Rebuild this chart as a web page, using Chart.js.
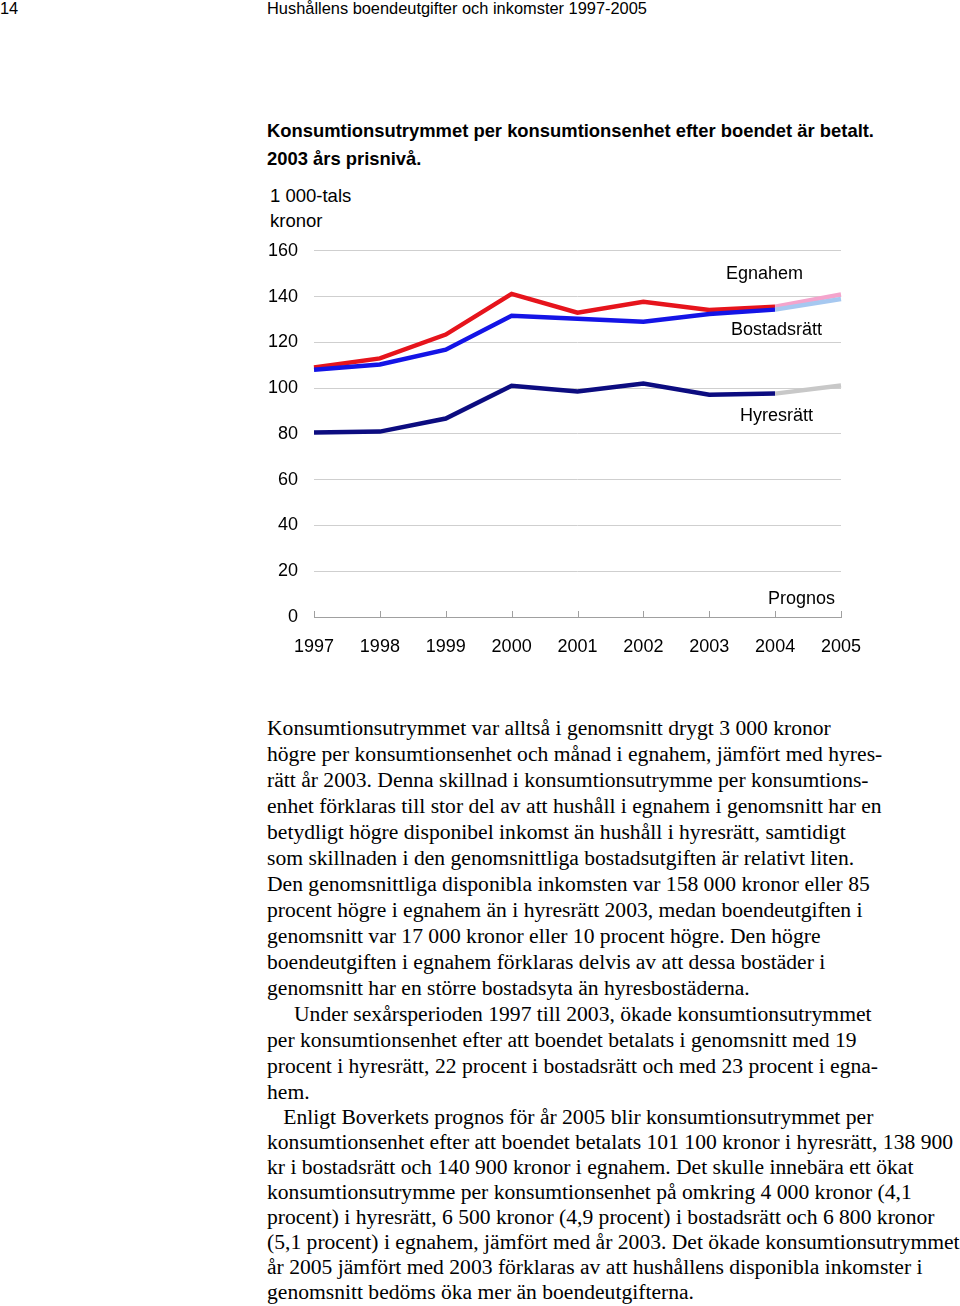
<!DOCTYPE html>
<html>
<head>
<meta charset="utf-8">
<script src="https://cdn.jsdelivr.net/npm/chart.js@4"></script>
<style>
  body { margin: 0; background: #fff; width: 960px; height: 1306px; position: relative; overflow: hidden; }
  .sans { font-family: "Liberation Sans", Arial, sans-serif; color: #000; }
  #pageno { position: absolute; left: 0; top: -1px; font-size: 16.4px; }
  #runhead { position: absolute; left: 267px; top: -1px; font-size: 16.4px; }
  #title { position: absolute; left: 267px; top: 117px; font-size: 18.4px; font-weight: bold; line-height: 28px; }
  #unit { position: absolute; left: 270px; top: 183px; font-size: 18.5px; line-height: 25px; }
  #wrap { position: absolute; left: 240px; top: 224px; width: 641px; height: 443px; }
  .body { position: absolute; left: 267px; font-family: "Liberation Serif", "Times New Roman", serif; font-size: 21.6px; color: #000; white-space: nowrap; }
  .body div { height: 26px; line-height: 26px; }
  #p1 { top: 715px; }
  #p2 { top: 1105px; }
  #p2 div { height: 25px; line-height: 25px; }
</style>
</head>
<body>
<div id="pageno" class="sans">14</div>
<div id="runhead" class="sans">Hushållens boendeutgifter och inkomster 1997-2005</div>
<div id="title" class="sans">Konsumtionsutrymmet per konsumtionsenhet efter boendet är betalt.<br>2003 års prisnivå.</div>
<div id="unit" class="sans">1 000-tals<br>kronor</div>
<div id="wrap"><canvas id="chart"></canvas></div>

<div id="p1" class="body">
<div>Konsumtionsutrymmet var alltså i genomsnitt drygt 3 000 kronor</div>
<div>högre per konsumtionsenhet och månad i egnahem, jämfört med hyres-</div>
<div>rätt år 2003. Denna skillnad i konsumtionsutrymme per konsumtions-</div>
<div>enhet förklaras till stor del av att hushåll i egnahem i genomsnitt har en</div>
<div>betydligt högre disponibel inkomst än hushåll i hyresrätt, samtidigt</div>
<div>som skillnaden i den genomsnittliga bostadsutgiften är relativt liten.</div>
<div>Den genomsnittliga disponibla inkomsten var 158 000 kronor eller 85</div>
<div>procent högre i egnahem än i hyresrätt 2003, medan boendeutgiften i</div>
<div>genomsnitt var 17 000 kronor eller 10 procent högre. Den högre</div>
<div>boendeutgiften i egnahem förklaras delvis av att dessa bostäder i</div>
<div>genomsnitt har en större bostadsyta än hyresbostäderna.</div>
<div>&nbsp;&nbsp;&nbsp;&nbsp;&nbsp;Under sexårsperioden 1997 till 2003, ökade konsumtionsutrymmet</div>
<div>per konsumtionsenhet efter att boendet betalats i genomsnitt med 19</div>
<div>procent i hyresrätt, 22 procent i bostadsrätt och med 23 procent i egna-</div>
<div>hem.</div>
</div>
<div id="p2" class="body">
<div>&nbsp;&nbsp;&nbsp;Enligt Boverkets prognos för år 2005 blir konsumtionsutrymmet per</div>
<div>konsumtionsenhet efter att boendet betalats 101 100 kronor i hyresrätt, 138 900</div>
<div>kr i bostadsrätt och 140 900 kronor i egnahem. Det skulle innebära ett ökat</div>
<div>konsumtionsutrymme per konsumtionsenhet på omkring 4 000 kronor (4,1</div>
<div>procent) i hyresrätt, 6 500 kronor (4,9 procent) i bostadsrätt och 6 800 kronor</div>
<div>(5,1 procent) i egnahem, jämfört med år 2003. Det ökade konsumtionsutrymmet</div>
<div>år 2005 jämfört med 2003 förklaras av att hushållens disponibla inkomster i</div>
<div>genomsnitt bedöms öka mer än boendeutgifterna.</div>
</div>

<script>
// years on the x axis, 2005 is a forecast
const years = ['1997', '1998', '1999', '2000', '2001', '2002', '2003', '2004', '2005'];

// 1 000-tals kronor per konsumtionsenhet, 2003 års prisnivå
const egnahem     = [109.0, 113.0, 123.4, 141.2, 133.0, 137.7, 134.1, 135.6, 140.9];
const bostadsratt = [108.0, 110.3, 116.8, 131.6, 130.3, 129.0, 132.4, 134.3, 138.9];
const hyresratt   = [80.6, 81.0, 86.7, 101.0, 98.5, 102.0, 97.1, 97.6, 101.1];

const yTicks = [0, 20, 40, 60, 80, 100, 120, 140, 160];

const forecastFrom = 7; // segment 2004 -> 2005 is the forecast

function makeSet(label, values, color, lightColor) {
    return {
        label: label,
        data: values,
        borderColor: color,
        borderWidth: 4.5,
        pointRadius: 0,
        tension: 0,
        segment: {
            borderColor: ctx => ctx.p0DataIndex >= forecastFrom ? lightColor : undefined
        }
    };
}

// labels written inside the plot, placed in data units
const inlineLabels = [
    { text: 'Egnahem', x: 6.84, y: 149.8 },
    { text: 'Bostadsrätt', x: 7.02, y: 125.3 },
    { text: 'Hyresrätt', x: 7.02, y: 87.8 },
    { text: 'Prognos', x: 7.4, y: 7.8 }
];

const extras = {
    id: 'extras',
    afterDatasetsDraw(chart) {
        const c = chart.ctx;
        const xs = chart.scales.x, ys = chart.scales.y;
        const y0 = ys.getPixelForValue(0);
        c.save();
        // small tick marks on the category axis
        c.strokeStyle = '#a0a0a0';
        c.lineWidth = 1;
        years.forEach((yr, i) => {
            const px = Math.round(xs.getPixelForValue(i)) + 0.5;
            c.beginPath();
            c.moveTo(px, y0);
            c.lineTo(px, y0 - 6);
            c.stroke();
        });
        c.fillStyle = '#000';
        c.font = '18px "Liberation Sans", Arial, sans-serif';
        c.textAlign = 'center';
        c.textBaseline = 'middle';
        inlineLabels.forEach(l => {
            c.fillText(l.text, xs.getPixelForValue(l.x), ys.getPixelForValue(l.y));
        });
        c.restore();
    }
};

const ctx = document.getElementById('chart').getContext('2d');
new Chart(ctx, {
    type: 'line',
    data: {
        labels: years,
        datasets: [
            makeSet('Hyresrätt', hyresratt, '#0c0c80', '#c8c8c8'),
            makeSet('Bostadsrätt', bostadsratt, '#1414e6', '#a6c8f0'),
            makeSet('Egnahem', egnahem, '#e6141c', '#f4a4cc')
        ]
    },
    options: {
        responsive: true,
        maintainAspectRatio: false,
        animation: false,
        layout: { padding: { top: 14, right: 40, left: 0, bottom: 0 } },
        plugins: {
            legend: { display: false },
            tooltip: { enabled: false }
        },
        scales: {
            x: {
                offset: false,
                grid: { display: false, drawTicks: false },
                border: { display: true, color: '#a0a0a0', width: 1 },
                ticks: {
                    color: '#000',
                    padding: 19,
                    maxRotation: 0,
                    autoSkip: false,
                    font: { family: '"Liberation Sans", Arial, sans-serif', size: 18 }
                },
                afterFit: scale => { scale.height = 50; }
            },
            y: {
                min: 0,
                max: 160,
                afterBuildTicks: scale => { scale.ticks = yTicks.map(v => ({ value: v })); },
                grid: { color: '#cfcfcf', lineWidth: 1, drawTicks: false },
                border: { display: false },
                ticks: {
                    color: '#000',
                    padding: 16,
                    font: { family: '"Liberation Sans", Arial, sans-serif', size: 18 }
                },
                afterFit: scale => { scale.width = 74; }
            }
        }
    },
    plugins: [extras]
});
</script>
</body>
</html>
